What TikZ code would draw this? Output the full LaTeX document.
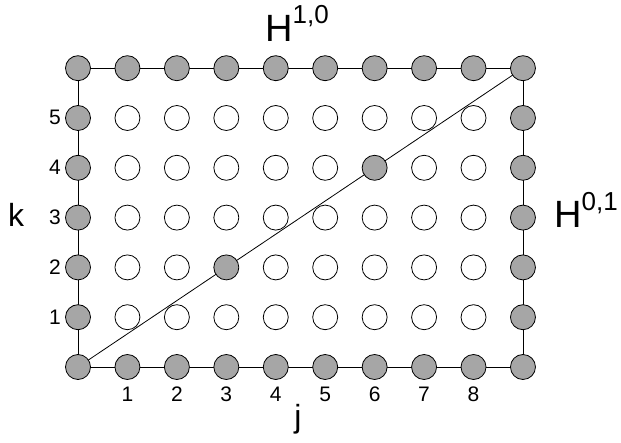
\documentclass[tikz,border=0pt]{standalone}
\usepackage{fontspec}
\setmainfont{Liberation Sans}
\usetikzlibrary{backgrounds}
\definecolor{dotgray}{RGB}{166,166,166}
\tikzset{
  dot/.style={circle,draw=black,line width=0.8pt,minimum size=25pt,inner sep=0pt},
  full/.style={dot,fill=dotgray},
  empty/.style={dot,fill=white},
  edge/.style={line width=0.8pt,draw=black},
  numlab/.style={inner sep=0pt,font=\fontsize{21}{21}\selectfont},
  axlab/.style={inner sep=0pt,font=\fontsize{32}{32}\selectfont},
  hlab/.style={inner sep=0pt,font=\fontsize{38}{38}\selectfont}
}
\newcommand{\supz}[2]{{\fontsize{26}{26}\selectfont\raisebox{#1}{#2}}}
\begin{document}
\begin{tikzpicture}[x=1pt,y=-1pt]
\useasboundingbox (0,0) rectangle (621,443);
\foreach \i in {0,...,9}{
  \foreach \r in {0,...,6}{
    \pgfmathsetmacro{\xx}{78+49.44*\i}
    \pgfmathsetmacro{\yy}{367-49.8*\r}
    \pgfmathtruncatemacro{\isborder}{(\i==0)||(\i==9)||(\r==0)||(\r==6)||((\i==3)&&(\r==2))||((\i==6)&&(\r==4))}
    \ifnum\isborder=1
      \node[full] (c-\i-\r) at (\xx,\yy) {};
    \else
      \node[empty] (c-\i-\r) at (\xx,\yy) {};
    \fi
  }
}
\begin{scope}[on background layer]
  \draw[edge] (c-0-0.center) -- (c-9-0.center) -- (c-9-6.center) -- (c-0-6.center) -- cycle;
  \draw[edge] (c-0-0.center) -- (c-9-6.center);
\end{scope}
% column labels
\foreach \i in {1,...,8}{
  \pgfmathsetmacro{\xx}{78+49.44*\i}
  \node[numlab,anchor=base] (col-\i) at (\xx,401) {\i};
}
% row labels
\foreach \r in {1,...,5}{
  \pgfmathsetmacro{\yy}{367-49.8*\r+7}
  \node[numlab,anchor=base east] (row-\r) at (61,\yy) {\r};
}
\node[axlab,anchor=base west] (k) at (8,227) {k};
\node[axlab,anchor=base] (j) at (298,428) {j};
\node[hlab,anchor=base west] (h10) at (265,42) {H\supz{18pt}{1,0}};
\node[hlab,anchor=base west] (h01) at (554,228) {H\supz{17pt}{0,1}};
\end{tikzpicture}
\end{document}
